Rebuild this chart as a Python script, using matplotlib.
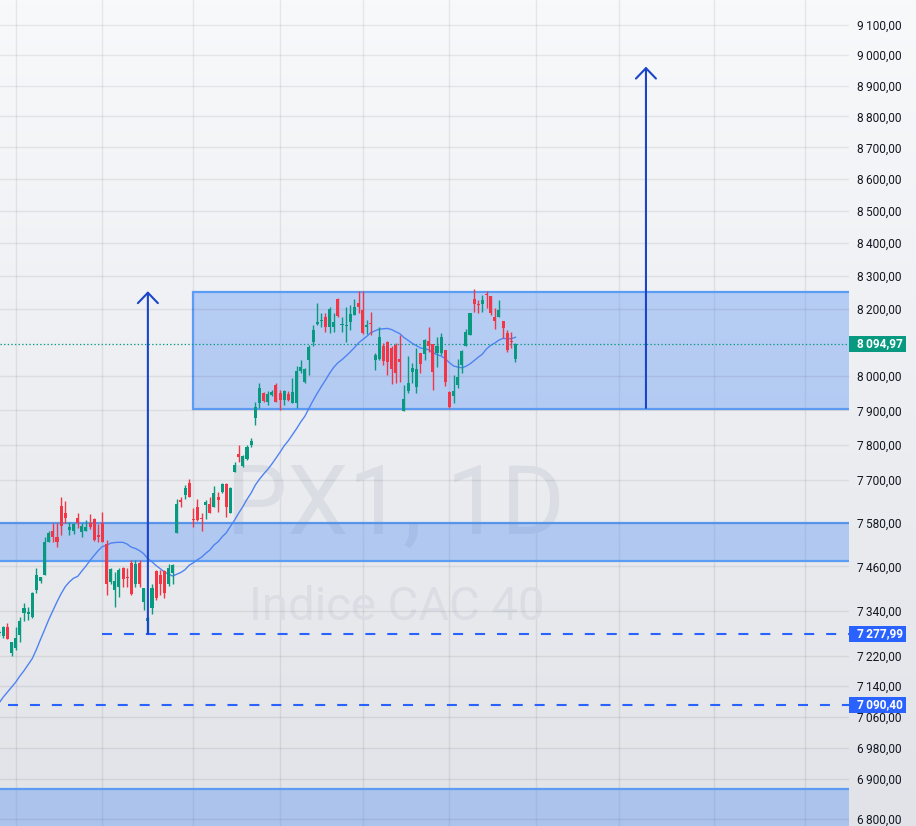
import matplotlib

matplotlib.use("Agg")
import matplotlib.patches as mpatches
import matplotlib.pyplot as plt
import matplotlib.transforms as mtransforms
import numpy as np
import pandas as pd
from matplotlib.colors import LinearSegmentedColormap
from matplotlib.ticker import FixedLocator, FuncFormatter, NullLocator

# --- data: PX1 (CAC 40) daily candles ----------------------------------------
opens = [7280, 7271, 7295, 7228, 7241, 7276, 7335, 7332, 7322, 7397,
         7421, 7438, 7528, 7559, 7542, 7628, 7609, 7561, 7559, 7595,
         7556, 7559, 7581, 7592, 7548, 7581, 7523, 7419, 7397, 7405,
         7457, 7431, 7470, 7411, 7470, 7364, 7311, 7348, 7449, 7438,
         7449, 7413, 7443, 7553, 7645, 7659, 7692, 7590, 7625, 7593,
         7631, 7634, 7625, 7653, 7667, 7690, 7609, 7722, 7775, 7741,
         7761, 7801, 7878, 7921, 7951, 7925, 7945, 7974, 7951, 7930,
         7948, 7921, 7921, 8015, 7983, 8048, 8101, 8154, 8162, 8175,
         8145, 8145, 8229, 8150, 8147, 8160, 8181, 8217, 8196, 8145,
         8155, 8048, 8050, 8089, 8101, 8083, 8092, 8051, 7898, 7957,
         8012, 7968, 8068, 8065, 8104, 8095, 8068, 8068, 8077, 7954,
         7942, 7974, 8033, 8089, 8122, 8229, 8212, 8214, 8243, 8239,
         8175, 8175, 8163, 8128, 8102, 8051]
highs = [7287, 7300, 7308, 7255, 7295, 7322, 7362, 7351, 7390, 7457,
         7432, 7542, 7559, 7581, 7581, 7653, 7642, 7583, 7581, 7609,
         7581, 7589, 7606, 7595, 7578, 7612, 7534, 7457, 7446, 7457,
         7459, 7457, 7479, 7479, 7479, 7402, 7322, 7411, 7451, 7451,
         7451, 7468, 7468, 7648, 7653, 7687, 7704, 7622, 7648, 7609,
         7645, 7653, 7684, 7668, 7692, 7692, 7681, 7752, 7801, 7772,
         7801, 7821, 7925, 7980, 7954, 7957, 7960, 7980, 7960, 7960,
         7957, 7995, 8030, 8048, 8024, 8092, 8151, 8217, 8187, 8187,
         8205, 8187, 8232, 8175, 8205, 8211, 8229, 8254, 8254, 8166,
         8190, 8068, 8145, 8098, 8104, 8089, 8098, 8122, 7974, 8059,
         8039, 8083, 8068, 8110, 8145, 8095, 8116, 8128, 8077, 7957,
         8003, 8051, 8077, 8140, 8187, 8260, 8226, 8242, 8254, 8239,
         8202, 8226, 8163, 8137, 8131, 8098]
lows = [7273, 7268, 7263, 7218, 7236, 7255, 7311, 7314, 7319, 7389,
        7416, 7436, 7526, 7528, 7514, 7548, 7581, 7548, 7550, 7567,
        7542, 7558, 7564, 7531, 7528, 7526, 7381, 7411, 7351, 7378,
        7405, 7403, 7383, 7405, 7405, 7343, 7277.99, 7330, 7370, 7383,
        7373, 7408, 7411, 7553, 7625, 7648, 7653, 7570, 7586, 7559,
        7592, 7609, 7625, 7612, 7665, 7597, 7609, 7722, 7752, 7738,
        7758, 7795, 7858, 7907, 7925, 7916, 7942, 7925, 7901, 7916,
        7927, 7921, 7907, 8009, 7980, 8003, 8089, 8151, 8145, 8131,
        8128, 8131, 8175, 8131, 8101, 8137, 8181, 8187, 8125, 8125,
        8122, 8018, 8048, 8033, 8003, 7977, 7980, 7983, 7898, 7951,
        7980, 7951, 8009, 8048, 8071, 7960, 8027, 8062, 7971, 7907,
        7921, 7965, 8009, 8089, 8122, 8190, 8187, 8190, 8202, 8181,
        8140, 8175, 8113, 8071, 8083, 8042]
closes = [7282, 7295, 7265, 7255, 7268, 7311, 7346, 7333, 7389, 7438,
          7430, 7528, 7553, 7542, 7528, 7572, 7595, 7570, 7578, 7581,
          7572, 7570, 7570, 7534, 7542, 7528, 7411, 7454, 7421, 7451,
          7427, 7429, 7386, 7468, 7411, 7400, 7319, 7402, 7373, 7411,
          7389, 7457, 7465, 7634, 7639, 7679, 7653, 7588, 7589, 7591,
          7639, 7609, 7665, 7645, 7690, 7625, 7679, 7744, 7767, 7769,
          7795, 7812, 7910, 7965, 7927, 7948, 7954, 7925, 7930, 7957,
          7930, 7954, 8015, 8027, 8021, 8086, 8137, 8160, 8163, 8145,
          8199, 8160, 8178, 8152, 8149, 8184, 8205, 8205, 8128, 8151,
          8153, 8062, 8116, 8045, 8042, 8021, 8009, 8042, 7933, 7980,
          8024, 8021, 8036, 8107, 8089, 8012, 8089, 8116, 7983, 7910,
          7957, 7997, 8074, 8131, 8187, 8214, 8210, 8226, 8241, 8187,
          8163, 8196, 8142, 8077, 8100, 8094.97]
# SMA(20) values before a full 20-bar window is visible
sma_head = [7096, 7111, 7124, 7137, 7150, 7166, 7180, 7196, 7212, 7236,
            7263, 7289, 7316, 7340, 7364, 7386, 7405, 7418, 7428]

last_price = 8094.97
levels_dashed = [7277.99, 7090.40]
range_box = (7905, 8250)       # consolidation range
zone_box = (7476, 7580)        # old resistance zone
low_box = (6500, 6874)         # support zone at the bottom
arrow_left = (7277.99, 8253)   # measured move from the low
arrow_right = (7907, 8962)     # projected move from range bottom
box_start = 46.9               # bar where the range box starts
arrow_bars = [36, 156.6]
dash_starts = [24.9, 2.1]
month_bars = [4, 25, 47, 68, 88, 109, 130, 150, 173, 195]
tick_values = [6800, 6900, 6980, 7060, 7140, 7220, 7340, 7460, 7580, 7700,
               7800, 7900, 8000, 8200, 8300, 8400, 8500, 8600, 8700, 8800,
               8900, 9000, 9100]

# --- style --------------------------------------------------------------------
GREEN, RED = "#089981", "#f23645"
BLUE = "#2962ff"
ARROW = "#1a45c9"
BOX_EDGE = "#5d9cf5"
BOX_FILL = (0.24, 0.51, 0.96, 0.32)
SMA_C = "#4f83f2"
TXT = "#131722"
WM = "#dadde3"
plt.rcParams["lines.scale_dashes"] = False
plt.rcParams["font.family"] = ["Roboto", "DejaVu Sans"]

W, H = 916, 826
PLOT_W = 849
PX_BAR, X0 = 4.13, -0.8
PX_LOG = 2725.0  # pixels per unit of ln(price)
Y_TOP, Y_BOT = 9183.9, 6782.3


def fmt(v):
    return f"{v:,.2f}".replace(",", "\u2009").replace(".", ",")


o = np.array(opens, float)
h = np.array(highs, float)
l = np.array(lows, float)
c = np.array(closes, float)
idx = np.arange(len(c))
sma = pd.Series(c).rolling(20).mean().to_numpy()
sma[:len(sma_head)] = sma_head

fig = plt.figure(figsize=(W / 100, H / 100), dpi=100)
bg = fig.add_axes([0, 0, 1, 1], zorder=-1)
cmap = LinearSegmentedColormap.from_list("bg", ["#f8f9fb", "#e1e3e8"])
bg.imshow(np.linspace(0, 1, 256)[:, None], aspect="auto", cmap=cmap,
          extent=[0, 1, 0, 1])
bg.axis("off")

ax = fig.add_axes([0, 0, PLOT_W / W, 1])
ax.patch.set_visible(False)
ax.set_yscale("log")
ax.set_ylim(Y_BOT, Y_TOP)
ax.set_xlim((0 - X0) / PX_BAR, (PLOT_W - X0) / PX_BAR)
for s in ax.spines.values():
    s.set_visible(False)

ax.yaxis.set_major_locator(FixedLocator(tick_values))
ax.yaxis.set_minor_locator(NullLocator())
ax.yaxis.set_major_formatter(FuncFormatter(lambda v, _: fmt(v)))
ax.yaxis.tick_right()
ax.tick_params(axis="y", length=0, pad=5.8, labelsize=8.6, labelcolor=TXT)
ax.set_xticks([])
ax.grid(axis="y", color="black", alpha=0.07, lw=1)
for m in month_bars:
    ax.axvline(m, color="black", alpha=0.07, lw=1, zorder=0)

# watermark
ax.text(0.466, 1 - 508 / H, "PX1, 1D", transform=ax.transAxes, ha="center",
        va="center", fontsize=70, color=WM, zorder=0.5)
ax.text(0.467, 1 - 607 / H, "Indice CAC 40", transform=ax.transAxes,
        ha="center", va="center", fontsize=34, color=WM, zorder=0.5)

# zones
ax.add_patch(mpatches.Rectangle((box_start, range_box[0]), 400, range_box[1] - range_box[0],
                                facecolor=BOX_FILL, edgecolor=BOX_EDGE, lw=1.6, zorder=1))
for lo, hi in (zone_box, low_box):
    ax.add_patch(mpatches.Rectangle((-10, lo), 400, hi - lo, facecolor=BOX_FILL,
                                    edgecolor=BOX_EDGE, lw=1.6, zorder=1))

# SMA 20
ax.plot(idx, sma, color=SMA_C, lw=1.0, zorder=2)

# candles
colors = np.where(c >= o, GREEN, RED)
ax.vlines(idx, l, h, colors=colors, lw=1.0, zorder=3)
lo_b = np.minimum(o, c)
hgt = np.maximum(np.maximum(o, c) - lo_b, lo_b * (np.exp(1.3 / PX_LOG) - 1))
ax.bar(idx, hgt, bottom=lo_b, width=0.74, color=colors, lw=0, zorder=4)

# last price dotted line
ax.axhline(last_price, color=GREEN, lw=0.9, ls=(0, (1.0, 1.6)), zorder=2.5)

# dashed levels
for start, lvl in zip(dash_starts, levels_dashed):
    ax.plot([start, 400], [lvl, lvl], color=BLUE, lw=1.5, ls=(0, (7.2, 8.6)), zorder=5)

# arrows
for xb, (y0, y1) in zip(arrow_bars, (arrow_left, arrow_right)):
    ax.annotate("", xy=(xb, y1), xytext=(xb, y0),
                arrowprops=dict(arrowstyle="->,head_length=0.75,head_width=0.72",
                                color=ARROW, lw=1.5, shrinkA=0, shrinkB=0),
                zorder=6)

# price labels on the scale
trans = mtransforms.blended_transform_factory(ax.transAxes, ax.transData)
half = np.exp(8 / PX_LOG)
for price, col in ((last_price, GREEN), (levels_dashed[0], BLUE), (levels_dashed[1], BLUE)):
    ax.add_patch(mpatches.Rectangle((1.0, price / half), 57 / PLOT_W, price * half - price / half,
                                    transform=trans, facecolor=col, lw=0,
                                    clip_on=False, zorder=10))
    ax.text(1 + 8 / PLOT_W, price, fmt(price), transform=trans, ha="left",
            va="center", color="white", fontsize=8.6, fontweight="bold",
            clip_on=False, zorder=11)

fig.savefig("out.png", dpi=100)
